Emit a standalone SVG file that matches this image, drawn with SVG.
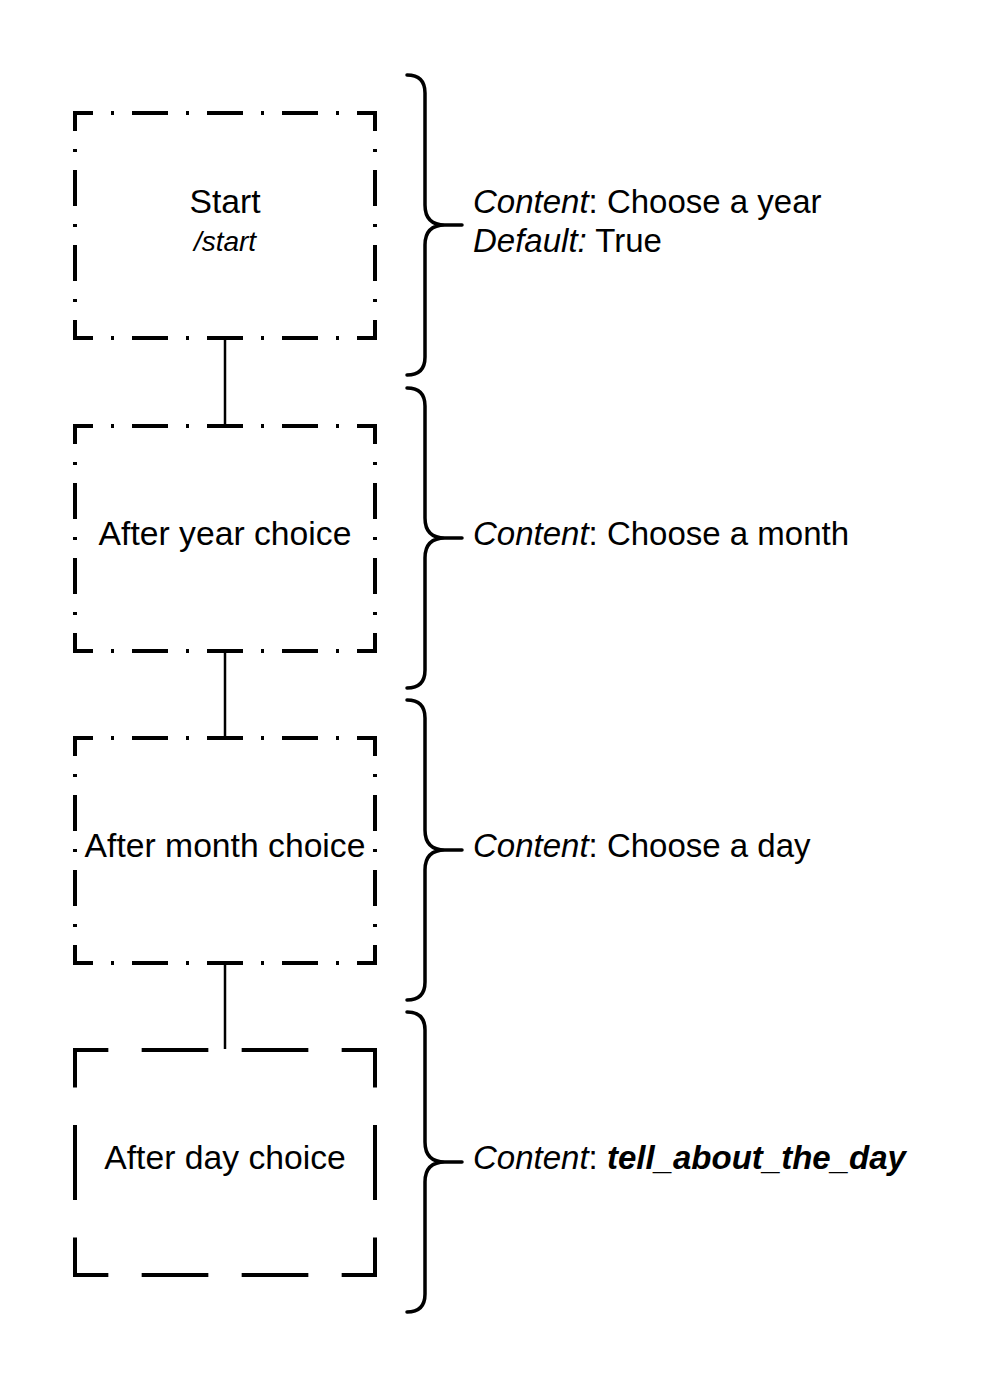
<svg xmlns="http://www.w3.org/2000/svg" width="998" height="1388" viewBox="0 0 998 1388">
<style>
.dd{fill:none;stroke:#000;stroke-width:4;stroke-dasharray:36 18 3 18;stroke-dashoffset:18;stroke-linejoin:miter}
.dh{stroke:#000;stroke-width:4;stroke-dasharray:66.67 33.33;stroke-dashoffset:31.33}
.dv{stroke:#000;stroke-width:4;stroke-dasharray:75 37.5;stroke-dashoffset:35.5}
.conn{stroke:#000;stroke-width:2.5;fill:none}
.brace{fill:none;stroke:#000;stroke-width:3.5;stroke-linecap:round}
text{font-family:"Liberation Sans",Arial,sans-serif;font-size:33px;fill:#000}
.c{text-anchor:middle;font-size:33.7px}
.i{font-style:italic}
.b{font-weight:bold}
</style>
<defs>
<path id="br" class="brace" d="M407,0 Q425,0 425,18 L425,130 Q425,150 445,150 L462,150 M445,150 Q425,150 425,170 L425,282 Q425,300 407,300"/>
</defs>
<rect width="998" height="1388" fill="#fff"/>
<g id="connectors">
<line class="conn" x1="225" y1="338" x2="225" y2="426"/>
<line class="conn" x1="225" y1="651" x2="225" y2="738"/>
<line class="conn" x1="225" y1="963" x2="225" y2="1049"/>
</g>
<g id="node-start">
<rect class="dd" x="75" y="113" width="300" height="225"/>
<text class="c" x="225" y="213">Start</text>
<text class="c i" x="225" y="251" style="font-size:28px">/start</text>
</g>
<g id="node-year">
<rect class="dd" x="75" y="426" width="300" height="225"/>
<text class="c" x="225" y="545">After year choice</text>
</g>
<g id="node-month">
<rect class="dd" x="75" y="738" width="300" height="225"/>
<text class="c" x="225" y="857">After month choice</text>
</g>
<g id="node-day">
<line class="dh" x1="73" y1="1050" x2="377" y2="1050"/>
<line class="dh" x1="73" y1="1275" x2="377" y2="1275"/>
<line class="dv" x1="75" y1="1048" x2="75" y2="1277"/>
<line class="dv" x1="375" y1="1048" x2="375" y2="1277"/>
<text class="c" x="225" y="1169">After day choice</text>
</g>
<g id="brace-1">
<use href="#br" transform="translate(0,75)"/>
<text x="473" y="213"><tspan class="i">Content</tspan>: Choose a year</text>
<text x="473" y="252"><tspan class="i">Default:</tspan> True</text>
</g>
<g id="brace-2">
<use href="#br" transform="translate(0,388)"/>
<text x="473" y="545"><tspan class="i">Content</tspan>: Choose a month</text>
</g>
<g id="brace-3">
<use href="#br" transform="translate(0,700)"/>
<text x="473" y="857"><tspan class="i">Content</tspan>: Choose a day</text>
</g>
<g id="brace-4">
<use href="#br" transform="translate(0,1012)"/>
<text x="473" y="1169"><tspan class="i">Content</tspan>: <tspan class="i b">tell_about_the_day</tspan></text>
</g>
</svg>
